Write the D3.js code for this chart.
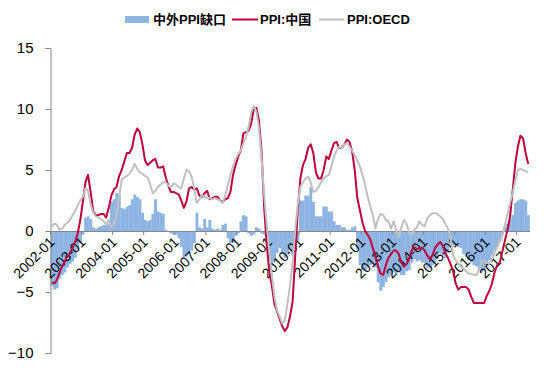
<!DOCTYPE html>
<html>
<head>
<meta charset="utf-8">
<script src="https://cdn.jsdelivr.net/npm/d3@7"></script>
<style>
  body { margin: 0; background: #fff; }
  svg { display: block; }
</style>
</head>
<body>
<script>
// monthly categories 2002-01 .. 2017-05
let months = d3.timeMonth.range(new Date(2002, 0, 1), new Date(2017, 5, 1)).map(d3.timeFormat('%Y-%m'));

let chinaPPI = [
  -4.2,-4.3,-4.0,-3.4,-2.9,-2.5,-2.1,-1.8,-1.4,-0.9,-0.2,0.9,
  2.4,4.0,4.6,3.2,1.6,1.3,1.3,1.4,1.4,1.1,1.9,2.9,
  3.4,3.6,4.5,5.0,5.7,6.4,6.4,6.8,7.9,8.4,8.1,7.1,
  5.8,5.4,5.6,5.8,5.9,5.2,5.2,5.3,4.4,3.7,3.2,3.2,
  3.1,3.0,2.5,1.9,2.4,3.5,3.6,3.4,3.5,2.9,2.8,3.1,
  3.3,2.6,2.7,2.8,2.8,2.5,2.4,2.6,2.7,3.2,4.6,5.4,
  6.1,6.6,8.0,8.1,8.2,8.8,10.0,10.1,9.1,6.6,2.0,-1.1,
  -3.3,-4.5,-6.0,-6.6,-7.2,-7.8,-8.2,-7.9,-7.0,-5.8,-2.1,1.7,
  4.3,5.4,5.9,6.8,7.1,6.4,4.8,4.3,4.3,5.0,6.1,5.9,
  6.6,7.2,7.3,6.8,6.8,7.1,7.5,7.3,6.5,5.0,2.7,1.7,
  0.7,0.0,-0.3,-0.7,-1.4,-2.1,-2.9,-3.5,-3.6,-2.8,-2.2,-1.9,
  -1.6,-1.6,-1.9,-2.6,-2.9,-2.7,-2.3,-1.6,-1.3,-1.5,-1.4,-1.4,
  -1.6,-2.0,-2.3,-2.0,-1.4,-1.1,-0.9,-1.2,-1.8,-2.2,-2.7,-3.3,
  -4.3,-4.8,-4.6,-4.6,-4.6,-4.8,-5.4,-5.9,-5.9,-5.9,-5.9,-5.9,
  -5.3,-4.9,-4.3,-3.4,-2.8,-2.6,-1.7,-0.8,0.1,1.2,3.3,5.5,
  6.9,7.8,7.6,6.4,5.5
];

let oecdPPI = [
  0.35,0.6,0.5,0.1,0.2,0.5,0.7,0.9,1.3,1.6,2.1,2.5,
  2.8,3.5,3.3,2.2,1.5,1.2,1.1,1.0,0.8,0.5,0.9,0.3,
  0.6,1.2,2.8,4.2,4.4,4.5,4.7,5.0,5.5,5.1,4.8,4.7,
  4.5,4.4,3.8,3.1,3.3,3.6,3.8,4.0,4.0,3.7,3.6,3.9,
  3.8,3.6,3.5,4.3,5.0,4.9,4.45,3.5,2.3,2.6,2.95,2.8,
  2.7,2.7,2.6,2.7,2.6,2.5,2.3,2.9,3.8,4.6,5.3,5.9,
  6.3,6.6,7.2,7.7,8.5,9.7,10.25,9.8,8.5,6.0,3.0,0.5,
  -1.6,-3.7,-5.4,-6.5,-7.0,-7.6,-7.3,-6.0,-4.5,-2.5,0.0,2.2,
  3.6,4.0,4.3,4.45,4.0,3.2,3.3,3.6,4.0,4.3,4.5,4.6,
  5.3,6.1,6.6,6.9,6.8,7.1,7.2,6.9,6.6,6.2,5.8,5.3,
  4.6,3.8,2.8,2.0,1.3,0.2,1.0,1.4,1.3,0.9,0.8,0.2,
  0.8,0.1,-0.5,0.3,0.9,0.6,-0.1,-0.3,0.1,0.3,0.8,0.5,
  0.4,1.0,1.3,1.45,1.45,1.4,1.2,1.0,0.6,0.2,-0.45,-2.0,
  -2.4,-2.7,-2.9,-3.1,-3.3,-3.5,-3.5,-3.6,-3.6,-3.2,-2.5,-2.4,
  -2.6,-2.65,-2.3,-1.8,-1.3,-0.8,-0.4,0.5,1.4,2.3,3.1,4.1,
  5.0,5.1,5.0,4.9,4.8
];

let ppiGap = [
  -4.5,-4.8,-4.7,-3.9,-3.6,-3.4,-3.0,-2.7,-2.5,-2.2,-1.6,-1.0,
  -0.3,1.1,1.2,1.0,0.3,0.2,0.3,0.4,0.5,0.5,0.6,2.4,
  2.6,3.1,3.0,1.9,1.8,2.0,2.1,2.6,3.0,2.8,2.6,1.5,
  0.9,0.8,0.9,1.4,2.6,1.6,1.5,1.4,0.1,0.0,-0.2,-0.3,
  -0.3,-0.6,-1.3,-2.2,-2.1,-1.9,-1.6,-1.0,1.5,0.3,0.2,1.0,
  0.3,0.9,0.2,0.1,0.2,0.1,0.5,0.6,-0.6,-1.0,-1.0,-0.4,
  -0.2,0.8,1.3,1.2,-0.2,-0.4,-0.3,0.3,0.2,-0.2,-0.3,-0.5,
  -2.5,-2.9,-2.4,-1.8,-1.4,-1.9,-2.2,-1.8,-1.5,-2.0,-1.5,-0.8,
  2.5,2.5,2.9,2.9,3.6,2.4,1.2,1.2,1.2,2.0,2.0,1.6,
  1.6,0.8,0.5,0.5,0.3,0.3,0.1,0.1,0.3,0.4,-1.5,-2.8,
  -3.2,-3.2,-3.0,-2.8,-2.7,-3.0,-4.2,-4.9,-4.6,-4.2,-3.8,-3.6,
  -3.4,-3.5,-3.4,-3.6,-3.6,-3.3,-3.2,-2.6,-2.3,-2.5,-2.4,-2.6,
  -2.6,-3.0,-3.1,-2.8,-2.6,-2.2,-1.8,-2.0,-2.2,-1.8,-1.2,-1.2,
  -1.2,-1.3,-1.4,-1.9,-2.1,-2.4,-2.6,-2.8,-2.9,-3.2,-3.4,-3.1,
  -2.9,-2.4,-2.0,-1.6,-1.3,-0.9,-0.3,0.3,0.6,1.0,1.3,2.3,
  2.5,2.6,2.6,2.5,1.3
];

let tickLabels = ['2002-01','2003-01','2004-01','2005-01','2006-01','2007-01','2008-01','2009-01',
  '2010-01','2011-01','2012-01','2013-01','2014-01','2015-01','2016-01','2017-01'];
let yTicks = [-10, -5, 0, 5, 10, 15];

let svgWidth = 554, svgHeight = 371;
let plotLeft = 50.5, plotRight = 529.5, plotTop = 48, plotBottom = 353;

let svg = d3.select('body').append('svg')
  .attr('width', svgWidth).attr('height', svgHeight);

let xScale = d3.scaleBand().domain(months).range([plotLeft, plotRight]).padding(0);
let yScale = d3.scaleLinear().domain([-10, 15]).range([plotBottom, plotTop]);

// bars
svg.append('g').selectAll('rect')
  .data(ppiGap)
  .enter()
  .append('rect')
  .attr('x', (d, i) => xScale(months[i]))
  .attr('width', xScale.bandwidth() + 0.3)
  .attr('y', d => yScale(Math.max(0, d)))
  .attr('height', d => Math.abs(yScale(d) - yScale(0)))
  .attr('fill', '#8db4e2');

// y axis
let yAxis = d3.axisLeft(yScale).tickValues(yTicks).tickSize(5).tickPadding(12);
let gy = svg.append('g').attr('transform', 'translate(' + plotLeft + ',0)').call(yAxis);
gy.select('.domain').attr('stroke', '#868686');
gy.selectAll('.tick line').attr('stroke', '#868686');
gy.selectAll('.tick text')
  .attr('fill', '#000')
  .style('font-family', '"Liberation Sans", Arial, sans-serif')
  .style('font-size', '15px');

// x axis at zero
let x_axis = d3.axisBottom(xScale)
  .tickValues(tickLabels)
  .tickSize(4)
  .tickSizeOuter(0);
let gx = svg.append('g').attr('transform', 'translate(0,' + yScale(0) + ')').call(x_axis);
gx.select('.domain').attr('stroke', '#868686');
gx.selectAll('.tick').attr('transform', d => 'translate(' + xScale(d) + ',0)');
gx.selectAll('.tick line').attr('stroke', '#868686');
gx.selectAll('.tick text')
  .attr('fill', '#000')
  .attr('text-anchor', 'end')
  .attr('dy', null)
  .attr('y', 0)
  .attr('transform', 'translate(5,12) rotate(-45)')
  .style('font-family', '"Liberation Sans", Arial, sans-serif')
  .style('font-size', '14px');

// lines
let line = d3.line()
  .x((d, i) => xScale(months[i]) + xScale.bandwidth() / 2)
  .y(d => yScale(d));

svg.append('path').datum(chinaPPI)
  .attr('d', line).attr('fill', 'none')
  .attr('stroke', '#c0003c').attr('stroke-width', 2).attr('stroke-linejoin', 'round');

svg.append('path').datum(oecdPPI)
  .attr('d', line).attr('fill', 'none')
  .attr('stroke', '#c0c0c0').attr('stroke-width', 2).attr('stroke-linejoin', 'round');

// legend
let legendFont = '"Liberation Sans", "Noto Sans CJK SC", Arial, sans-serif';
let legend = svg.append('g').style('font-family', legendFont).style('font-size', '13px').style('font-weight', 'bold');
legend.append('rect').attr('x', 125).attr('y', 16).attr('width', 24).attr('height', 7).attr('fill', '#8db4e2');
legend.append('text').attr('x', 153).attr('y', 24).text('中外PPI缺口');
legend.append('line').attr('x1', 232).attr('x2', 258).attr('y1', 19.5).attr('y2', 19.5)
  .attr('stroke', '#c0003c').attr('stroke-width', 2);
legend.append('text').attr('x', 260).attr('y', 24).text('PPI:中国');
legend.append('line').attr('x1', 319).attr('x2', 344).attr('y1', 19.5).attr('y2', 19.5)
  .attr('stroke', '#c0c0c0').attr('stroke-width', 2);
legend.append('text').attr('x', 347).attr('y', 24).text('PPI:OECD');
</script>
</body>
</html>
